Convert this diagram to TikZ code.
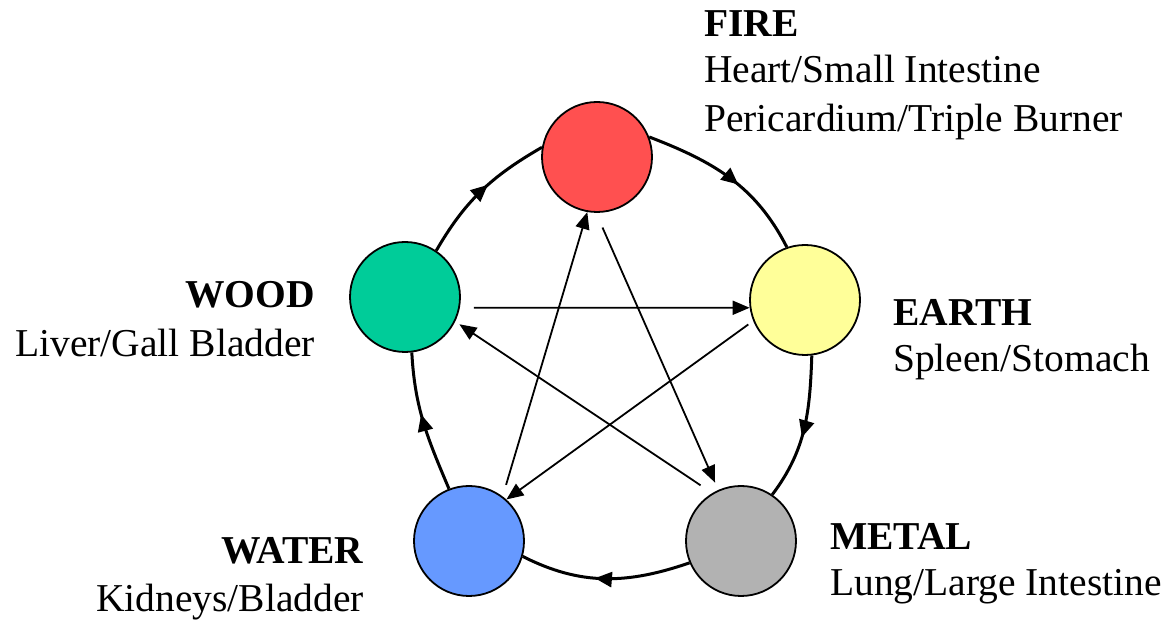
\documentclass[tikz,border=0pt]{standalone}
\usepackage{fontspec}
\setmainfont{Liberation Serif}
\usetikzlibrary{arrows.meta, decorations.markings}
\definecolor{fireRed}{HTML}{FF5050}
\definecolor{earthYellow}{HTML}{FFFF99}
\definecolor{metalGray}{HTML}{B2B2B2}
\definecolor{waterBlue}{HTML}{6699FF}
\definecolor{woodGreen}{HTML}{00CC99}

\begin{document}
\begin{tikzpicture}[x=1pt, y=1pt,
		element/.style={circle, draw=black, line width=1.8pt, inner sep=0pt, minimum size=110pt},
		sheng/.style={line width=3pt, postaction={decorate},
			decoration={markings, mark=at position 0.56 with {\arrow{Triangle[length=17pt,width=15pt]}}}},
		ke/.style={line width=1.8pt, -{Triangle[length=17pt,width=14pt]}},
		lbl/.style={inner sep=0pt, font=\fontsize{39.5}{48}\selectfont}]
		\useasboundingbox (0,0) rectangle (1169,620);
		\foreach \x/\y/\el/\col in {
			597/463/fire/fireRed,
			805/320/earth/earthYellow,
			741/79/metal/metalGray,
			469/79/water/waterBlue,
			405/323/wood/woodGreen}{
			\node[element, fill=\col] (\el) at (\x,\y) {};
		}
		% generating cycle
		\draw[sheng] (wood.56) to[out=60, in=210] (fire.170);
		\draw[sheng] (fire.21) to[out=-21, in=117] (earth.109);
		\draw[sheng] (earth.-83) to[out=-92, in=53] (metal.56);
		\draw[sheng] (metal.203) to[out=199, in=-27] (water.-16);
		\draw[sheng] (water.111) to[out=113, in=-87] (wood.-83);
		% controlling star
		\draw[ke, shorten <=14pt] (wood.-11) -- (earth.188);
		\draw[ke, shorten <=6pt] (earth.202) -- (water.48);
		\draw[ke, shorten <=12pt] (water.53) -- (fire.260);
		\draw[ke, shorten <=16pt, shorten >=8pt] (fire.269) -- (metal.114);
		\draw[ke, shorten <=14pt, shorten >=5pt] (metal.121) -- (wood.-26);
		% labels
		\node[lbl, anchor=base west] (firehead) at (704,583) {\textbf{FIRE}};
		\node[lbl, anchor=base west] (fireorg1) at (704,537) {Heart/Small Intestine};
		\node[lbl, anchor=base west] (fireorg2) at (704,488) {Pericardium/Triple Burner};
		\node[lbl, anchor=base east] (woodhead) at (315,312) {\textbf{WOOD}};
		\node[lbl, anchor=base east] (woodorg) at (315,263) {Liver/Gall Bladder};
		\node[lbl, anchor=base west] (earthhead) at (893,294) {\textbf{EARTH}};
		\node[lbl, anchor=base west] (earthorg) at (893,248) {Spleen/Stomach};
		\node[lbl, anchor=base west] (metalhead) at (830,70) {\textbf{METAL}};
		\node[lbl, anchor=base west] (metalorg) at (830,24) {Lung/Large Intestine};
		\node[lbl, anchor=base east] (waterhead) at (364,56) {\textbf{WATER}};
		\node[lbl, anchor=base east] (waterorg) at (364,8) {Kidneys/Bladder};
	\end{tikzpicture}
\end{document}
